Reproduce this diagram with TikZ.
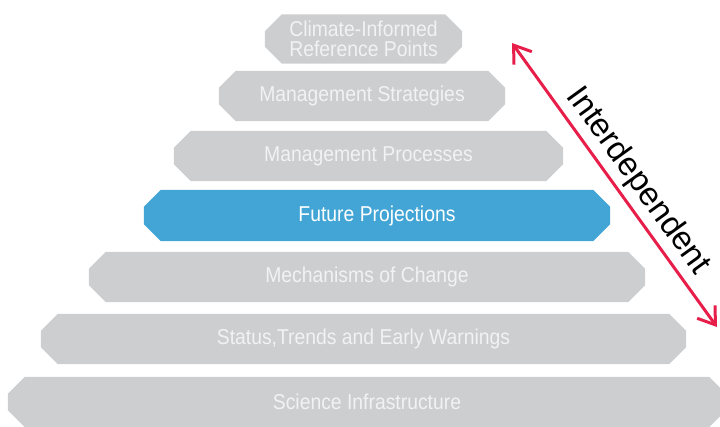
\documentclass[tikz,border=0pt]{standalone}
\usepackage{fontspec}
\setmainfont{Liberation Sans}
\newfontfamily\layerfont{Liberation Sans}[FakeStretch=0.9]
\usepackage{tikz}
\usetikzlibrary{arrows.meta,backgrounds}

\definecolor{layergray}{RGB}{205,206,208}
\definecolor{layerblue}{RGB}{66,165,213}
\definecolor{linkred}{RGB}{232,30,74}

% octagon behind a layer node
\newcommand{\layershape}[2]{%
  \fill[#2] ([xshift=17pt]#1.north west) -- ([xshift=-17pt]#1.north east)
     -- ([yshift=-17pt]#1.north east) -- ([yshift=17pt]#1.south east)
     -- ([xshift=-17pt]#1.south east) -- ([xshift=17pt]#1.south west)
     -- ([yshift=17pt]#1.south west) -- ([yshift=-17pt]#1.north west) -- cycle;}

\begin{document}
\begin{tikzpicture}[x=1pt,y=-1pt,
    layer/.style={rectangle,inner sep=0pt,minimum height=50pt,
        text=white!95!black,align=center,
        font=\layerfont\fontsize{21.5}{20}\selectfont},
    focus/.style={layer,text=white}]
\useasboundingbox (0,0) rectangle (720,426);

\node[layer,minimum width=197pt,minimum height=49pt] (refpoints) at (363.5,39)
    {Climate-Informed\\Reference Points};
\node[layer,minimum width=286pt] (strategies) at (362,96) {Management Strategies};
\node[layer,minimum width=389pt] (processes) at (368.5,156) {Management Processes};
\node[focus,minimum width=466pt,minimum height=51pt] (projections) at (377,215.5)
    {Future Projections};
\node[layer,minimum width=556pt] (mechanisms) at (367,277) {Mechanisms of Change};
\node[layer,minimum width=645pt] (status) at (363.5,339)
    {Status,Trends and Early Warnings};
\node[layer,minimum width=718pt] (infra) at (367,402) {Science Infrastructure};

\begin{pgfonlayer}{background}
    \clip (0,0) rectangle (720,426);
    \foreach \n in {refpoints,strategies,processes,mechanisms,status,infra}
        {\layershape{\n}{layergray}}
    \layershape{projections}{layerblue}
\end{pgfonlayer}

% two-way arrow along the right flank
\coordinate (linktop) at (512,43);
\coordinate (linkbot) at (717,327);
\draw[linkred,line width=3pt,
      {Straight Barb[length=16pt,width=22pt]}-{Straight Barb[length=16pt,width=22pt]}]
    (linktop) -- (linkbot)
    node[pos=0.53,sloped,above=1pt,text=black,
         font=\fontsize{33}{36}\selectfont] (linklabel) {Interdependent};
\end{tikzpicture}
\end{document}
